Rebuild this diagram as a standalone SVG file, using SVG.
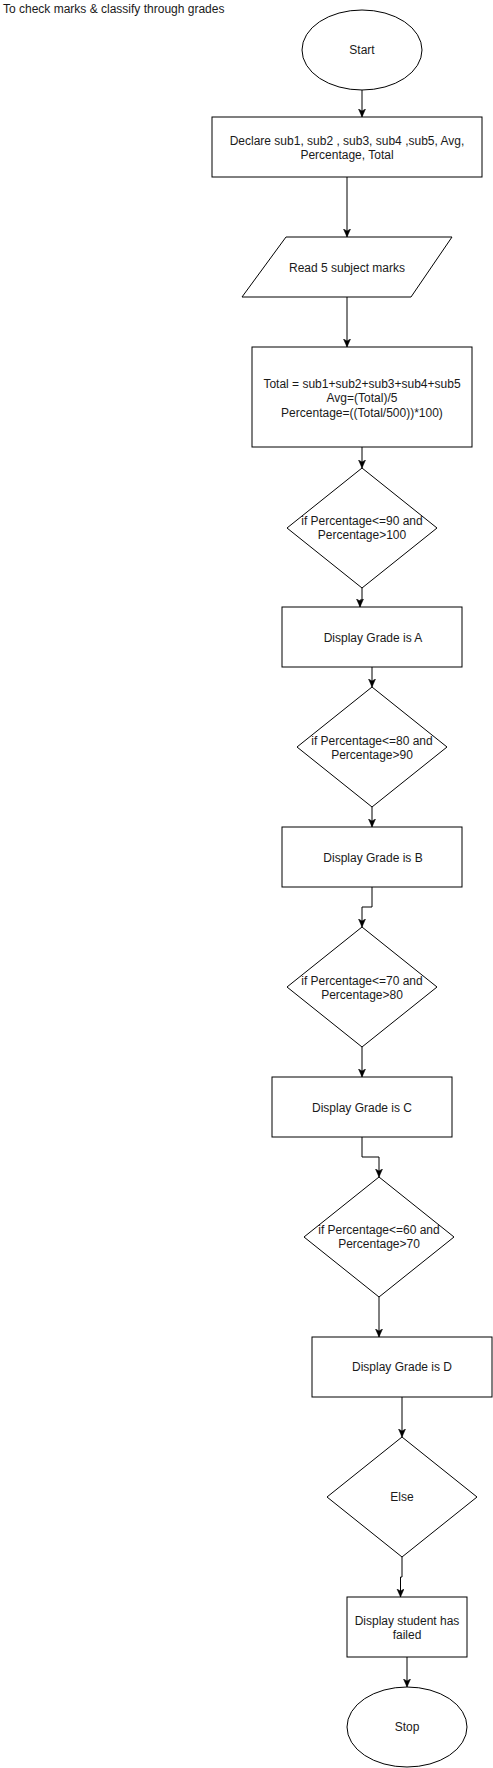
<svg xmlns="http://www.w3.org/2000/svg" width="493" height="1768" viewBox="0 0 493 1768">
<style>
.s{fill:#fff;stroke:#000;stroke-width:1}
.t{font-family:"Liberation Sans",Arial,sans-serif;font-size:12px;fill:#1a1a1a;text-anchor:middle}
.c{fill:none;stroke:#000;stroke-width:1;marker-end:url(#ah)}
</style>
<defs>
<marker id="ah" markerUnits="userSpaceOnUse" markerWidth="10" markerHeight="10" refX="8" refY="3.5" orient="auto">
<path d="M0,0 L8,3.5 L0,7 L2,3.5 Z" fill="#000" stroke="#000" stroke-width="0.5"/>
</marker>
</defs>
<rect width="493" height="1768" fill="#fff"/>
<text id="title" x="3" y="13" style="font-family:'Liberation Sans',Arial,sans-serif;font-size:12px;fill:#1a1a1a">To check marks &amp; classify through grades</text>
<g id="connectors">
<path class="c" d="M362,90 V117"/>
<path class="c" d="M347,177 V237"/>
<path class="c" d="M347,297 V347"/>
<path class="c" d="M362,447 V468"/>
<path class="c" d="M362,588 V600 H360 V607"/>
<path class="c" d="M372,667 V687"/>
<path class="c" d="M372,807 V827"/>
<path class="c" d="M372,887 V907 H362 V927"/>
<path class="c" d="M362,1047 V1077"/>
<path class="c" d="M362,1137 V1157 H379 V1177"/>
<path class="c" d="M379,1297 V1337"/>
<path class="c" d="M402,1397 V1437"/>
<path class="c" d="M402,1557 V1577 H400.5 V1597"/>
<path class="c" d="M407,1657 V1687"/>
</g>
<g id="start">
<ellipse class="s" cx="362" cy="50" rx="60" ry="40"/>
<text class="t" x="362" y="54">Start</text>
</g>
<g id="declare">
<rect class="s" x="212" y="117" width="270" height="60"/>
<text class="t" x="347" y="145">Declare sub1, sub2 , sub3, sub4 ,sub5, Avg,</text>
<text class="t" x="347" y="159">Percentage, Total</text>
</g>
<g id="read">
<polygon class="s" points="286,237 452,237 411,297 242,297"/>
<text class="t" x="347" y="272">Read 5 subject marks</text>
</g>
<g id="compute">
<rect class="s" x="252" y="347" width="220" height="100"/>
<text class="t" x="362" y="388">Total = sub1+sub2+sub3+sub4+sub5</text>
<text class="t" x="362" y="402">Avg=(Total)/5</text>
<text class="t" x="362" y="417">Percentage=((Total/500))*100)</text>
</g>
<g id="condA">
<polygon class="s" points="362,468 437,528 362,588 287,528"/>
<text class="t" x="362" y="525">if Percentage&lt;=90 and</text>
<text class="t" x="362" y="539">Percentage&gt;100</text>
</g>
<g id="gradeA">
<rect class="s" x="282" y="607" width="180" height="60"/>
<text class="t" x="373" y="642">Display Grade is A</text>
</g>
<g id="condB">
<polygon class="s" points="372,687 447,747 372,807 297,747"/>
<text class="t" x="372" y="745">if Percentage&lt;=80 and</text>
<text class="t" x="372" y="759">Percentage&gt;90</text>
</g>
<g id="gradeB">
<rect class="s" x="282" y="827" width="180" height="60"/>
<text class="t" x="373" y="862">Display Grade is B</text>
</g>
<g id="condC">
<polygon class="s" points="362,927 437,987 362,1047 287,987"/>
<text class="t" x="362" y="985">if Percentage&lt;=70 and</text>
<text class="t" x="362" y="999">Percentage&gt;80</text>
</g>
<g id="gradeC">
<rect class="s" x="272" y="1077" width="180" height="60"/>
<text class="t" x="362" y="1112">Display Grade is C</text>
</g>
<g id="condD">
<polygon class="s" points="379,1177 454,1237 379,1297 304,1237"/>
<text class="t" x="379" y="1234">if Percentage&lt;=60 and</text>
<text class="t" x="379" y="1248">Percentage&gt;70</text>
</g>
<g id="gradeD">
<rect class="s" x="312" y="1337" width="180" height="60"/>
<text class="t" x="402" y="1371">Display Grade is D</text>
</g>
<g id="else">
<polygon class="s" points="402,1437 477,1497 402,1557 327,1497"/>
<text class="t" x="402" y="1501">Else</text>
</g>
<g id="failed">
<rect class="s" x="347" y="1597" width="120" height="60"/>
<text class="t" x="407" y="1625">Display student has</text>
<text class="t" x="407" y="1639">failed</text>
</g>
<g id="stop">
<ellipse class="s" cx="407" cy="1727" rx="60" ry="40"/>
<text class="t" x="407" y="1731">Stop</text>
</g>
</svg>
